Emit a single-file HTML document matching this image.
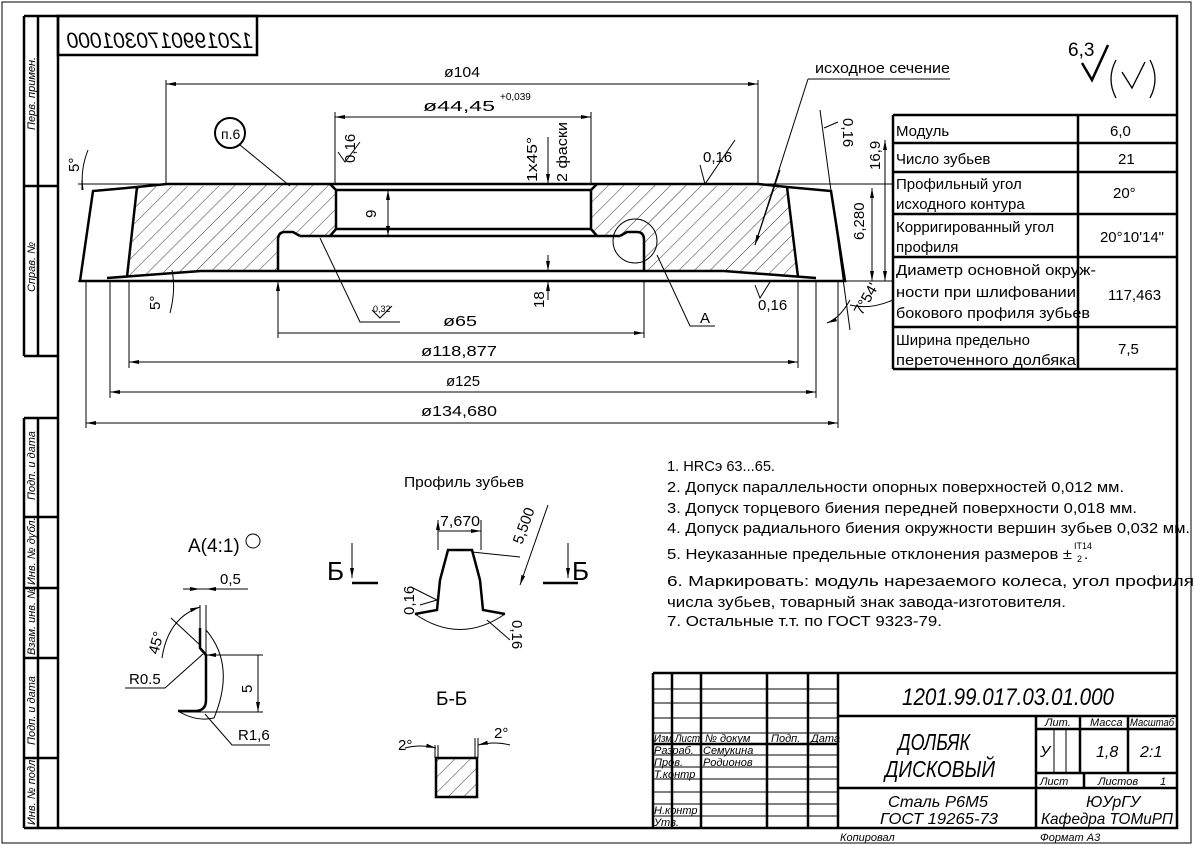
<!DOCTYPE html>
<html><head><meta charset="utf-8"><style>
html,body{margin:0;padding:0;background:#fff}
svg{display:block}
text{font-family:"Liberation Sans","DejaVu Sans",sans-serif;fill:#000}
.t{font-size:15px}
.s{font-size:11px;font-style:italic}
</style></head><body>
<svg width="1194" height="845" viewBox="0 0 1194 845" xmlns="http://www.w3.org/2000/svg">
<defs>
<pattern id="h" patternUnits="userSpaceOnUse" width="11" height="11" patternTransform="rotate(45)">
<line x1="0" y1="0" x2="0" y2="11" stroke="#000" stroke-width="0.8"/>
</pattern>
<marker id="a" viewBox="0 0 10 4" refX="10" refY="2" markerWidth="10" markerHeight="4" orient="auto-start-reverse" markerUnits="userSpaceOnUse">
<path d="M0,0 L10,2 L0,4 z" fill="#000"/>
</marker>
</defs>
<g fill="none" stroke="#000">
<rect x="2" y="2" width="1189" height="841" stroke-width="1"/>
<rect x="58" y="16" width="1119" height="812" stroke-width="2.5"/>
<rect x="58" y="16" width="199" height="39" stroke-width="2.5"/>
<g stroke-width="2.5">
<path d="M24,16V356M38,16V356M24,16H58M24,186H58M24,356H58"/>
<path d="M24,418V828M38,418V828M24,418H58M24,517H58M24,588H58M24,658H58M24,758H58M24,828H58"/>
</g>
<path d="M137,187 L330,184 L336,190 L336,229 L330,236 L300,236 L293,232 L283,232 L278,238 L278,271 L201,271 L127,277 Z" fill="url(#h)" stroke="none"/>
<path d="M594,184 L787,187 L798,277 L724,271 L644,271 L644,238 L639,232 L627,232 L620,236 L597,236 L591,229 L591,190 Z" fill="url(#h)" stroke="none"/>
<g stroke-width="2.5">
<path d="M80,281 L93,191 L137,187 L167,184 L758,184 L787,187 L831,191 L845,281 Z"/>
<path d="M137,187 L127,277 M787,187 L798,277"/>
<path d="M107,278 L201,271 L724,271 L816,278"/>
<path d="M336,190 H591 M336,190 V229 M591,190 V229 M336,229 H591 M330,184 L336,190 M597,184 L591,190 M330,236 L336,229 M597,236 L591,229 M300,236 H620"/>
<path d="M278,271 V240 Q278,232 285,232 L293,232 L300,236 M644,271 V240 Q644,232 637,232 L627,232 L620,236"/>
<path d="M1082,63 L1092,80 L1108,45"/>
</g>
<g stroke-width="1.3"><path d="M1116,60 Q1106,79 1116,98 M1150,60 Q1160,79 1150,98 M1122,72 L1132,88 L1145,62"/></g>
<g stroke-width="1">
<path d="M78,184 H893 M78,281 H893"/>
<circle cx="635" cy="241" r="22"/>
<path d="M166,80 V184 M758,80 V184"/>
<path d="M166,84 H758" marker-start="url(#a)" marker-end="url(#a)"/>
<path d="M335,112 V184 M591,112 V184"/>
<path d="M335,117 H591" marker-start="url(#a)" marker-end="url(#a)"/>
<path d="M278,281 V338 M644,281 V338 M278,333 H644" marker-start="url(#a)" marker-end="url(#a)"/>
<path d="M129,281 V368 M798,281 V368"/>
<path d="M129,362 H798" marker-start="url(#a)" marker-end="url(#a)"/>
<path d="M110,281 V398 M816,281 V398"/>
<path d="M110,392 H816" marker-start="url(#a)" marker-end="url(#a)"/>
<path d="M86,281 V428 M838,281 V428"/>
<path d="M86,423 H838" marker-start="url(#a)" marker-end="url(#a)"/>
<path d="M388,190 V236" marker-start="url(#a)" marker-end="url(#a)"/>
<path d="M548,255 V271" marker-end="url(#a)"/><path d="M548,300 V281" marker-end="url(#a)"/>
<path d="M548,137 V184" marker-end="url(#a)"/>
<path d="M872,188 V281" marker-start="url(#a)" marker-end="url(#a)"/>
<path d="M885,140 V281" marker-start="url(#a)" marker-end="url(#a)"/>
<path d="M820,110 L850,330"/>
<path d="M850,300 Q840,318 827,323" marker-end="url(#a)"/>
<path d="M893,300 Q870,310 850,305"/>
<path d="M240,145 L290,186"/>
<circle cx="230" cy="133" r="15" stroke-width="2"/>
<path d="M808,79 H950 M808,79 L755,245" />
<path d="M780,170 L755,245" marker-end="url(#a)"/>
<path d="M320,238 L360,322 H400"/>
<path d="M657,255 L690,326 H715"/>
<path d="M338,152 L345,162 L360,142 M700,165 L705,184 L735,140 M755,285 L760,298 L770,282 M824,128 L838,122 M372,310 L380,318 L392,306"/>
<path d="M88,150 Q80,170 83,190 M82,180 V190"/>
<path d="M172,270 Q176,290 170,313"/>
</g>
<g stroke-width="2.5">
<path d="M415,614 L437,610 L440,580 L448,550 L472,550 L480,580 L483,610 L505,614"/>
<path d="M352,583 H378 M543,583 H578"/>
<rect x="436" y="758" width="41" height="39" fill="url(#h)"/>
<path d="M200,628 V648 L206,655 V700 Q206,711 195,711 H178"/>
</g>
<g stroke-width="1">
<path d="M415,614 Q460,645 505,614"/>
<path d="M438,520 V550 M481,520 V550 M438,531 H481" marker-start="url(#a)" marker-end="url(#a)"/>
<path d="M472,552 L520,557"/>
<path d="M548,505 L520,585" marker-end="url(#a)"/>
<path d="M352,543 V578" marker-end="url(#a)"/><path d="M568,543 V578" marker-end="url(#a)"/>
<path d="M411,587 L437,600 L420,605 M487,620 L510,640"/>
<path d="M435,745 V758 M438,745 V758 M475,738 V758 M478,738 V758"/>
<path d="M405,748 Q420,744 436,748" marker-end="url(#a)"/>
<path d="M510,745 Q495,741 478,745" marker-end="url(#a)"/>
<path d="M206,630 Q236,665 214,718 Q196,722 178,711"/>
<path d="M200,605 V628 M206,605 V655 M183,589 H248"/>
<path d="M190,589 H200" marker-end="url(#a)"/><path d="M225,589 H206" marker-end="url(#a)"/>
<path d="M206,655 H263 M180,712 H263 M258,655 V712" marker-start="url(#a)" marker-end="url(#a)"/>
<path d="M162,658 Q168,618 200,607" marker-end="url(#a)"/>
<path d="M171,618 L200,645 M125,688 H165 L203,654 M270,745 H232 L205,714"/>
<circle cx="253" cy="541" r="7"/>
</g>
<g stroke-width="2.5">
<path d="M893,115 H1177 M893,143 H1177 M893,172 H1177 M893,214 H1177 M893,257 H1177 M893,327 H1177 M893,369 H1177 M893,115 V369 M1078,115 V369"/>
</g>
<g stroke-width="2.5">
<path d="M653,673 H1177 M653,673 V828 M672,673 V828 M701,673 V828 M767,673 V828 M808,673 V828 M838,673 V828 M653,744 H838 M838,716 H1177 M838,788 H1177 M1036,716 V828 M1080,716 V773 M1128,716 V773 M1036,729 H1177 M1036,773 H1177 M1084,773 V788"/>
</g>
<g stroke-width="1"><path d="M653,689 H838 M653,703 H838 M653,718 H838 M653,733 H838 M653,755 H838 M653,767 H838 M653,779 H838 M653,792 H838 M653,804 H838 M653,816 H838 M1054,729 V773 M1066,729 V773"/></g>
</g>
<g class="t">
<text x="60" y="48" transform="translate(313,0) scale(-1,1)" font-size="22" font-style="italic" textLength="186" lengthAdjust="spacingAndGlyphs">1201990170301000</text>
<text x="444" y="77" textLength="36" lengthAdjust="spacingAndGlyphs">ø104</text>
<text x="423" y="111" textLength="72" lengthAdjust="spacingAndGlyphs">ø44,45</text><text x="500" y="100" font-size="10">+0,039</text>
<text x="221" y="139" font-size="14">п.6</text>
<text x="443" y="326" textLength="34" lengthAdjust="spacingAndGlyphs">ø65</text>
<text x="421" y="356" textLength="76" lengthAdjust="spacingAndGlyphs">ø118,877</text>
<text x="446" y="386" textLength="34" lengthAdjust="spacingAndGlyphs">ø125</text>
<text x="421" y="416" textLength="76" lengthAdjust="spacingAndGlyphs">ø134,680</text>
<text x="815" y="73" textLength="135" lengthAdjust="spacingAndGlyphs">исходное сечение</text>
<text x="703" y="162">0,16</text>
<text x="758" y="310">0,16</text>
<text x="700" y="323">А</text>
<text x="373" y="312" font-size="9">0,32</text>
<text transform="translate(355,163) rotate(-90)">0,16</text>
<text transform="translate(376,218) rotate(-90)">9</text>
<text transform="translate(544,308) rotate(-90)">18</text>
<text transform="translate(537,182) rotate(-90)" textLength="45" lengthAdjust="spacingAndGlyphs">1x45°</text>
<text transform="translate(567,182) rotate(-90)" textLength="60" lengthAdjust="spacingAndGlyphs">2 фаски</text>
<text transform="translate(880,170) rotate(-90)">16,9</text>
<text transform="translate(864,240) rotate(-90)">6,280</text>
<text transform="translate(843,118) rotate(90)">0,16</text>
<text transform="translate(862,316) rotate(-60)">7°54'</text>
<text transform="translate(79,172) rotate(-90)">5°</text>
<text transform="translate(160,310) rotate(-90)">5°</text>
<text x="1068" y="56" font-size="19">6,3</text>
<text x="896" y="136">Модуль</text><text x="1110" y="136">6,0</text>
<text x="896" y="164">Число зубьев</text><text x="1118" y="164">21</text>
<text x="896" y="189">Профильный угол</text><text x="896" y="209">исходного контура</text><text x="1113" y="198">20°</text>
<text x="896" y="232">Корригированный угол</text><text x="896" y="252">профиля</text><text x="1100" y="242" textLength="64" lengthAdjust="spacingAndGlyphs">20°10'14"</text>
<text x="896" y="275" textLength="200" lengthAdjust="spacingAndGlyphs">Диаметр основной окруж-</text>
<text x="896" y="297" textLength="180" lengthAdjust="spacingAndGlyphs">ности при шлифовании</text>
<text x="896" y="318" textLength="194" lengthAdjust="spacingAndGlyphs">бокового профиля зубьев</text>
<text x="1108" y="300">117,463</text>
<text x="896" y="345">Ширина предельно</text><text x="896" y="365" textLength="180" lengthAdjust="spacingAndGlyphs">переточенного долбяка</text><text x="1118" y="354">7,5</text>
<text x="667" y="471" textLength="108" lengthAdjust="spacingAndGlyphs">1. HRCэ 63...65.</text>
<text x="667" y="492" textLength="457" lengthAdjust="spacingAndGlyphs">2. Допуск параллельности опорных поверхностей 0,012 мм.</text>
<text x="667" y="513" textLength="470" lengthAdjust="spacingAndGlyphs">3. Допуск торцевого биения передней поверхности 0,018 мм.</text>
<text x="667" y="533" textLength="523" lengthAdjust="spacingAndGlyphs">4. Допуск радиального биения окружности вершин зубьев 0,032 мм.</text>
<text x="667" y="559" textLength="405" lengthAdjust="spacingAndGlyphs">5. Неуказанные предельные отклонения размеров ±</text>
<text x="1074" y="549" font-size="9">IT14</text><text x="1077" y="562" font-size="9">2</text><text x="1084" y="559">.</text>
<text x="667" y="586" textLength="527" lengthAdjust="spacingAndGlyphs">6.  Маркировать:  модуль  нарезаемого  колеса,  угол  профиля</text>
<text x="667" y="607" textLength="399" lengthAdjust="spacingAndGlyphs">числа зубьев, товарный знак завода-изготовителя.</text>
<text x="667" y="626" textLength="275" lengthAdjust="spacingAndGlyphs">7. Остальные т.т. по ГОСТ 9323-79.</text>
<text x="404" y="487" textLength="120" lengthAdjust="spacingAndGlyphs">Профиль зубьев</text>
<text x="440" y="526" textLength="40" lengthAdjust="spacingAndGlyphs">7,670</text>
<text transform="translate(522,545) rotate(-70)">5,500</text>
<text transform="translate(414,615) rotate(-90)">0,16</text>
<text transform="translate(512,620) rotate(90)">0,16</text>
<text x="327" y="580" font-size="26">Б</text><text x="572" y="580" font-size="26">Б</text>
<text x="436" y="705" font-size="19">Б-Б</text>
<text x="398" y="750">2°</text><text x="494" y="738">2°</text>
<text x="188" y="552" font-size="19">А(4:1)</text>
<text x="220" y="584">0,5</text>
<text x="129" y="684">R0.5</text>
<text x="238" y="740">R1,6</text>
<text transform="translate(158,655) rotate(-75)">45°</text>
<text transform="translate(252,693) rotate(-90)">5</text>
</g>
<g font-style="italic">
<text x="902" y="705" font-size="24" textLength="212" lengthAdjust="spacingAndGlyphs">1201.99.017.03.01.000</text>
<text x="898" y="750" font-size="23" textLength="72" lengthAdjust="spacingAndGlyphs">ДОЛБЯК</text>
<text x="885" y="777" font-size="23" textLength="110" lengthAdjust="spacingAndGlyphs">ДИСКОВЫЙ</text>
<text x="888" y="807" font-size="16" textLength="100" lengthAdjust="spacingAndGlyphs">Сталь Р6М5</text>
<text x="880" y="824" font-size="16" textLength="118" lengthAdjust="spacingAndGlyphs">ГОСТ 19265-73</text>
<text x="1086" y="807" font-size="16">ЮУрГУ</text>
<text x="1041" y="824" font-size="16" textLength="132" lengthAdjust="spacingAndGlyphs">Кафедра ТОМиРП</text>
<text x="1045" y="726" class="s">Лит.</text><text x="1090" y="726" class="s">Масса</text><text x="1130" y="726" class="s" textLength="44" lengthAdjust="spacingAndGlyphs">Масштаб</text>
<text x="1040" y="757" font-size="16">У</text><text x="1096" y="757" font-size="16">1,8</text><text x="1140" y="757" font-size="16">2:1</text>
<text x="1040" y="785" class="s">Лист</text><text x="1098" y="785" class="s">Листов</text><text x="1160" y="785" class="s">1</text>
<text x="654" y="742" class="s" font-size="10" textLength="46" lengthAdjust="spacingAndGlyphs">Изм Лист</text><text x="705" y="742" class="s">№ докум</text><text x="771" y="742" class="s">Подп.</text><text x="811" y="742" class="s">Дата</text>
<text x="654" y="754" class="s">Разраб.</text><text x="703" y="754" class="s">Семукина</text>
<text x="654" y="766" class="s">Пров.</text><text x="703" y="766" class="s">Родионов</text>
<text x="654" y="778" class="s">Т.контр</text>
<text x="654" y="814" class="s">Н.контр</text>
<text x="654" y="826" class="s">Утв.</text>
<text x="840" y="841" class="s">Копировал</text>
<text x="1040" y="841" class="s">Формат   А3</text>
<text transform="translate(35,130) rotate(-90)" class="s">Перв. примен.</text>
<text transform="translate(35,292) rotate(-90)" class="s">Справ. №</text>
<text transform="translate(35,500) rotate(-90)" class="s">Подп. и дата</text>
<text transform="translate(35,585) rotate(-90)" class="s">Инв. № дубл.</text>
<text transform="translate(35,655) rotate(-90)" class="s">Взам. инв. №</text>
<text transform="translate(35,745) rotate(-90)" class="s">Подп. и дата</text>
<text transform="translate(35,825) rotate(-90)" class="s">Инв. № подл.</text>
</g>
</svg>
</body></html>
